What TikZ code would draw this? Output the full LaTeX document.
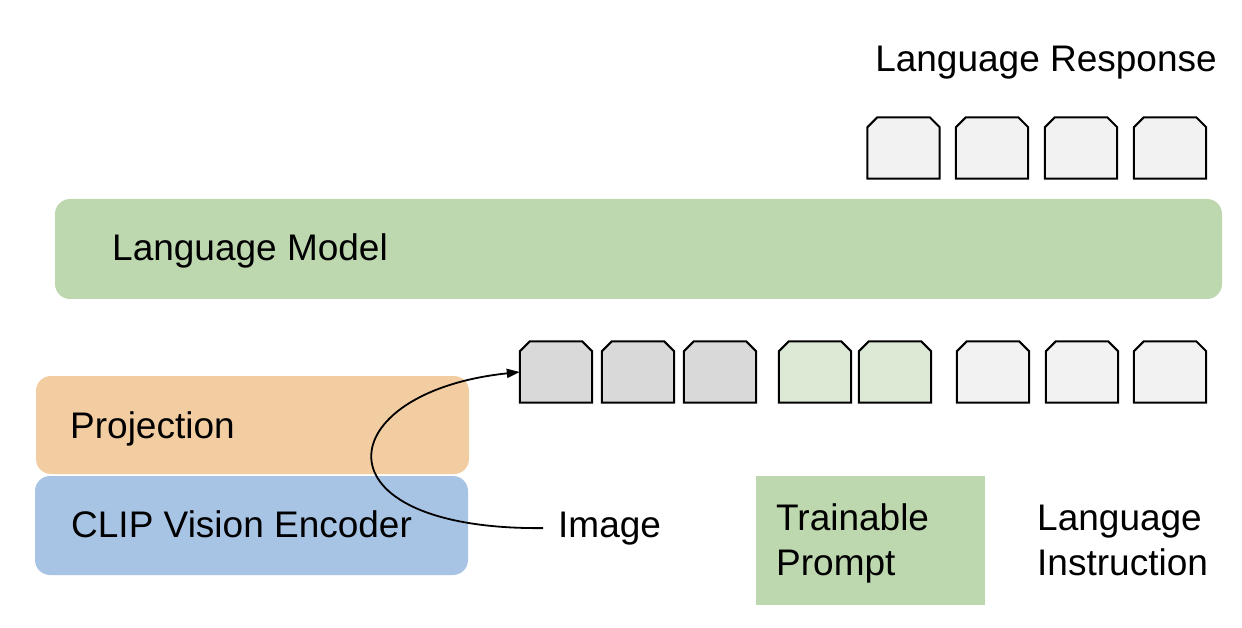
\documentclass[tikz,border=0pt]{standalone}
\usepackage{fontspec}
\setmainfont{Liberation Sans}
\usetikzlibrary{arrows.meta}
\definecolor{tokgray}{HTML}{D9D9D9}
\definecolor{toklight}{HTML}{F2F2F2}
\definecolor{tokgreen}{HTML}{DCE9D5}
\definecolor{lmgreen}{HTML}{BDD7AE}
\definecolor{projorange}{HTML}{F2CDA1}
\definecolor{clipblue}{HTML}{A8C4E5}
\begin{document}
\begin{tikzpicture}[x=1pt,y=-1pt,
  every node/.style={font=\fontsize{37}{45}\selectfont, inner sep=0pt},
  tokbox/.style={rectangle, minimum width=72pt, minimum height=61pt, inner sep=0pt},
  tokline/.style={draw=black, line width=2pt, line join=miter},
  bigbox/.style={rounded corners=15pt, minimum height=100pt},
  lbl/.style={anchor=base west}
]
\useasboundingbox (0,0) rectangle (1242,628);

% Language model
\node[bigbox, fill=lmgreen, minimum width=1167pt] (lm) at (638.5,249) {};
\node[lbl] (lmt) at (112,261) {Language Model};

% Projection and CLIP
\node[bigbox, fill=projorange, minimum width=433pt, minimum height=98pt] (proj) at (252.5,425) {};
\node[lbl] (projt) at (70,438) {Projection};
\node[bigbox, fill=clipblue, minimum width=433pt, minimum height=99pt] (clip) at (251.5,525.5) {};
\node[lbl] (clipt) at (71,537) {CLIP Vision Encoder};

% Response tokens
\node[lbl, anchor=base] (resp) at (1046,72) {Language Response};
\node[tokbox] (r1) at (903.5,148) {};
\node[tokbox] (r2) at (992,148) {};
\node[tokbox] (r3) at (1081,148) {};
\node[tokbox] (r4) at (1170,148) {};

% Input tokens
\node[tokbox] (b1) at (556,372) {};
\node[tokbox] (b2) at (638,372) {};
\node[tokbox] (b3) at (720,372) {};
\node[tokbox] (b4) at (815,372) {};
\node[tokbox] (b5) at (895,372) {};
\node[tokbox] (b6) at (993,372) {};
\node[tokbox] (b7) at (1082,372) {};
\node[tokbox] (b8) at (1170,372) {};

\foreach \n/\c in {r1/toklight,r2/toklight,r3/toklight,r4/toklight,
                   b1/tokgray,b2/tokgray,b3/tokgray,b4/tokgreen,b5/tokgreen,
                   b6/toklight,b7/toklight,b8/toklight}
  \filldraw[tokline, fill=\c] (\n.south west) -- ([yshift=-10pt]\n.north west)
    -- ([xshift=10pt]\n.north west) -- ([xshift=-10pt]\n.north east)
    -- ([yshift=-10pt]\n.north east) -- (\n.south east) -- cycle;

% Image label and curve
\node[lbl, inner xsep=15pt] (img) at (543,537) {Image};
\draw[line width=1.8pt, -{Triangle[length=13pt,width=9pt]}]
  (img.west) .. controls (310,530) and (330,392) .. (b1.west);

% Legend
\node[fill=lmgreen, minimum width=229pt, minimum height=129pt] (leg) at (870.5,540.5) {};
\node[lbl] (tp1) at (776,530) {Trainable};
\node[lbl] (tp2) at (776,575) {Prompt};
\node[lbl] (li1) at (1037,530) {Language};
\node[lbl] (li2) at (1037,575) {Instruction};
\end{tikzpicture}
\end{document}
